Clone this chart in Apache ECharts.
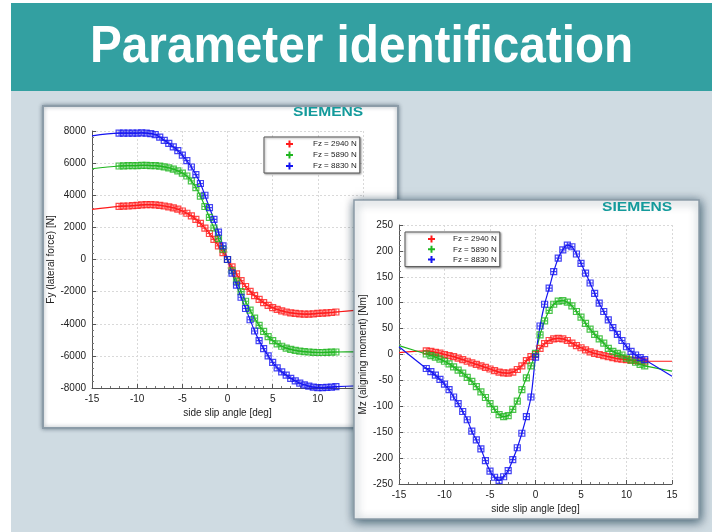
<!DOCTYPE html>
<html><head><meta charset="utf-8">
<script src="https://cdn.jsdelivr.net/npm/echarts@6/dist/echarts.min.js"></script>
<style>html,body{margin:0;padding:0;background:#fff}#c{width:712px;height:532px}</style>
</head><body><div id="c"></div>
<script>
// ---- data ----
const loadNames = ['Fz = 2940 N', 'Fz = 5890 N', 'Fz = 8830 N'];
const loadColors = ['#ff1a1a', '#1fb51f', '#1414f0'];
const slipAngle = [-12,-11.5,-11,-10.5,-10,-9.5,-9,-8.5,-8,-7.5,-7,-6.5,-6,-5.5,-5,-4.5,-4,-3.5,-3,-2.5,-2,-1.5,-1,-0.5,0,
  0.5,1,1.5,2,2.5,3,3.5,4,4.5,5,5.5,6,6.5,7,7.5,8,8.5,9,9.5,10,10.5,11,11.5,12];
// lateral force Fy [N]
const fy2940 = [3310,3320,3330,3350,3370,3400,3420,3420,3400,3370,3330,3280,3220,3130,3020,2880,2720,2500,2250,1950,1620,1250,850,430,0,
  -460,-900,-1320,-1680,-1990,-2250,-2480,-2680,-2860,-3000,-3110,-3200,-3270,-3320,-3360,-3390,-3400,-3400,-3380,-3360,-3340,-3320,-3300,-3270];
const fy5890 = [5820,5830,5840,5850,5850,5860,5860,5850,5840,5810,5770,5710,5630,5520,5380,5200,4900,4480,3950,3300,2620,1960,1300,650,0,
  -700,-1350,-2000,-2600,-3150,-3650,-4100,-4480,-4800,-5050,-5250,-5400,-5520,-5600,-5660,-5710,-5740,-5760,-5780,-5790,-5790,-5780,-5770,-5760];
const fy8830 = [7870,7870,7870,7870,7870,7880,7870,7840,7780,7620,7420,7230,7010,6780,6500,6150,5760,5280,4730,4000,3230,2500,1700,850,0,
  -850,-1600,-2350,-3050,-3750,-4450,-5050,-5550,-6000,-6400,-6750,-7000,-7200,-7400,-7560,-7700,-7800,-7880,-7950,-7980,-7980,-7960,-7940,-7920];
const fyFitStart = [3120, 5650, 7700];   // model value at -15 deg
const fyFitEnd = [-3120, -5750, -7850];  // model value at +15 deg
// aligning moment Mz [Nm]
const mz2940 = [7,6,4,2.5,0,-2,-4,-7,-10,-13,-16,-19,-22,-25,-28,-31,-34,-35.5,-36,-34,-29,-22,-12,-4,0,
  12,21,27,30,31,30,27,22,17,13,9,5,2,0,-2,-4,-6,-8,-9,-10,-11,-12,-12.5,-13];
const mz5890 = [1,-2,-5,-9,-13,-18,-24,-30,-36,-44,-52,-62,-72,-83,-95,-106,-116,-120,-118,-106,-90,-68,-45,-22,2,
  38,65,85,97,103,104,101,94,83,72,60,49,39,30,22,12,6,2,-1,-7,-11,-15,-19,-22];
const mz8830 = [-27,-33,-40,-48,-57,-68,-82,-95,-110,-126,-148,-165,-182,-205,-225,-237,-243,-236,-224,-203,-180,-152,-120,-82,-5,
  55,97,128,160,186,202,211,208,194,176,157,138,118,99,83,67,52,39,27,15,6,-1,-6,-10];
const mzFitStart = [3.5, 17, 15];
const mzFitEnd = [-13, -32, -42];

// ---- chart ----
const FONT = '"Liberation Sans", Arial, sans-serif';
const markerPath = 'path://M0,0L10,0L10,10L0,10Z M5,0L5,10 M0,5L10,5';
const plusIcon = 'path://M2.5,0H4.5V2.5H7V4.5H4.5V7H2.5V4.5H0V2.5H2.5Z';

function axisCommon(zl) {
  return {
    zlevel: zl, z: 1,
    axisLine: { onZero: false, lineStyle: { color: '#555', width: 1 } },
    axisTick: { inside: true, length: 4, lineStyle: { color: '#555' } },
    minorTick: { show: true, splitNumber: 5, length: 2, lineStyle: { color: '#777' } },
    splitLine: { show: true, lineStyle: { color: '#d9d9d9', type: [2, 2] } },
    axisLabel: { color: '#222', fontSize: 10, fontFamily: FONT, margin: 6, formatter: v => String(v) },
    nameLocation: 'middle',
    nameTextStyle: { color: '#222', fontSize: 10, fontFamily: FONT }
  };
}

const series = [];
const fyData = [fy2940, fy5890, fy8830];
const mzData = [mz2940, mz5890, mz8830];
function addSeries(idx, dataSets, starts, ends, zl) {
  for (let k = 0; k < 3; k++) {
    const pts = slipAngle.map((x, i) => [x, dataSets[k][i]]);
    series.push({
      type: 'line', name: loadNames[k], xAxisIndex: idx, yAxisIndex: idx,
      data: [[-15, starts[k]]].concat(pts).concat([[15, ends[k]]]),
      showSymbol: false, smooth: 0.35, silent: true, animation: false,
      lineStyle: { color: loadColors[k], width: 1.2 }, itemStyle: { color: loadColors[k] },
      zlevel: zl, z: 2
    });
    series.push({
      type: 'scatter', name: loadNames[k], xAxisIndex: idx, yAxisIndex: idx,
      data: pts, symbol: markerPath, symbolSize: 6, silent: true, animation: false,
      itemStyle: { color: 'rgba(0,0,0,0)', borderColor: loadColors[k], borderWidth: 1.2 },
      zlevel: zl, z: 3
    });
  }
}
addSeries(0, fyData, fyFitStart, fyFitEnd, 0);
addSeries(1, mzData, mzFitStart, mzFitEnd, 1);

function legendCfg(left, top, zl, padLeft, textPad, gap) {
  return {
    zlevel: zl, z: 4, orient: 'vertical', left: left, top: top,
    data: loadNames.map((n, k) => ({ name: n, icon: plusIcon, itemStyle: { color: loadColors[k], borderWidth: 0 } })),
    itemWidth: 7, itemHeight: 7, itemGap: gap,
    padding: [3, 3, 3, padLeft],
    backgroundColor: '#fff', borderColor: '#555', borderWidth: 1,
    shadowColor: 'rgba(0,0,0,0.35)', shadowBlur: 2, shadowOffsetX: 1, shadowOffsetY: 1,
    selectedMode: false,
    textStyle: { fontSize: 8, fontFamily: FONT, color: '#222', padding: [0, 0, 0, textPad] }
  };
}

const option = {
  animation: false,
  graphic: { elements: [
    { type: 'rect', zlevel: 0, z: 0, shape: { x: 0, y: 0, width: 712, height: 532 }, style: { fill: '#fff' } },
    { type: 'rect', zlevel: 0, z: 0, shape: { x: 11, y: 90, width: 701, height: 442 }, style: { fill: '#cfdbe2' } },
    { type: 'rect', zlevel: 0, z: 0, shape: { x: 11, y: 3, width: 701, height: 88 }, style: { fill: '#33a0a1' } },
    { type: 'text', zlevel: 0, z: 0, x: 90, y: 48, scaleX: 0.917,
      style: { text: 'Parameter identification', fill: '#fff', fontSize: 52, fontWeight: 'bold', fontFamily: FONT, textAlign: 'left', textVerticalAlign: 'middle' } },
    { type: 'rect', zlevel: 0, z: 0, shape: { x: 43, y: 106, width: 355, height: 322 },
      style: { fill: '#fff', stroke: '#8c9ca8', lineWidth: 2, shadowBlur: 4, shadowColor: 'rgba(0,30,50,0.4)' } },
    { type: 'text', zlevel: 0, z: 0, x: 293, y: 112.5, scaleX: 1.2,
      style: { text: 'SIEMENS', fill: '#139a9b', fontSize: 13, fontWeight: 'bold', fontFamily: FONT, textAlign: 'left', textVerticalAlign: 'middle' } },
    { type: 'rect', zlevel: 1, z: 0, shape: { x: 354, y: 200, width: 345, height: 319 },
      style: { fill: '#fff', stroke: '#8c9ca8', lineWidth: 1.5, shadowBlur: 10, shadowColor: 'rgba(0,40,60,0.7)', shadowOffsetX: 1, shadowOffsetY: 2 } },
    { type: 'text', zlevel: 1, z: 5, x: 602, y: 207.5, scaleX: 1.2,
      style: { text: 'SIEMENS', fill: '#139a9b', fontSize: 13, fontWeight: 'bold', fontFamily: FONT, textAlign: 'left', textVerticalAlign: 'middle' } }
  ] },
  grid: [
    { left: 92, top: 131, width: 271, height: 257 },
    { left: 399, top: 225, width: 273, height: 259 }
  ],
  xAxis: [
    Object.assign(axisCommon(0), { type: 'value', gridIndex: 0, min: -15, max: 15, interval: 5, name: 'side slip angle [deg]', nameGap: 20 }),
    Object.assign(axisCommon(1), { type: 'value', gridIndex: 1, min: -15, max: 15, interval: 5, name: 'side slip angle [deg]', nameGap: 20 })
  ],
  yAxis: [
    Object.assign(axisCommon(0), { type: 'value', gridIndex: 0, min: -8000, max: 8000, interval: 2000, name: 'Fy (lateral force) [N]', nameGap: 36 }),
    Object.assign(axisCommon(1), { type: 'value', gridIndex: 1, min: -250, max: 250, interval: 50, name: 'Mz (aligning moment) [Nm]', nameGap: 31 })
  ],
  legend: [
    legendCfg(264, 137, 0, 22, 15, 3),
    legendCfg(405, 232, 1, 23, 13, 2.3)
  ],
  series: series
};
const chart = echarts.init(document.getElementById('c'), null, { renderer: 'canvas' });
chart.setOption(option);
</script></body></html>
